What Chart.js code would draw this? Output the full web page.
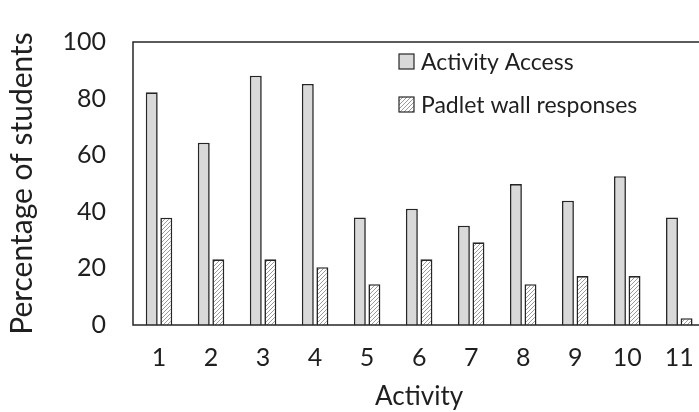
<!DOCTYPE html>
<html>
<head>
<meta charset="utf-8">
<script src="https://cdn.jsdelivr.net/npm/chart.js@4.4.1/dist/chart.umd.min.js"></script>
<style>
  html, body { margin: 0; padding: 0; background: #ffffff; overflow: hidden; }
  #wrap { width: 712px; height: 412px; }
  canvas { display: block; }
</style>
</head>
<body>
<div id="wrap"><canvas id="chart" width="712" height="412"></canvas></div>
<script>
// Activities shown along the x axis
const categories = ['1', '2', '3', '4', '5', '6', '7', '8', '9', '10', '11'];
// Share of students (%) who accessed each activity
const activityAccess = [82.2, 64.4, 88.1, 85.2, 38.0, 41.1, 35.1, 49.8, 43.9, 52.6, 38.0];
// Share of students (%) who posted on the Padlet wall
const padletResponses = [37.9, 23.2, 23.2, 20.4, 14.4, 23.2, 29.2, 14.4, 17.3, 17.3, 2.4];
// Y-axis tick values
const yTicks = [0, 20, 40, 60, 80, 100];

const seriesNames = ['Activity Access', 'Padlet wall responses'];
const INK = '#1f1f1f';
const EDGE = '#262626';

// Upward diagonal hatch used for the Padlet series
function makeHatch() {
  const s = 4;
  const c = document.createElement('canvas');
  c.width = s; c.height = s;
  const g = c.getContext('2d');
  g.fillStyle = '#ffffff';
  g.fillRect(0, 0, s, s);
  g.strokeStyle = '#9a9a9a';
  g.lineWidth = 1;
  g.beginPath();
  g.moveTo(-1, s + 1); g.lineTo(s + 1, -1);
  g.moveTo(-1, 1); g.lineTo(1, -1);
  g.moveTo(s - 1, s + 1); g.lineTo(s + 1, s - 1);
  g.stroke();
  return g.createPattern(c, 'repeat');
}

// Frame around the plot area
const frame = {
  id: 'frame',
  afterDatasetsDraw(chart) {
    const { ctx, chartArea: a } = chart;
    ctx.save();
    ctx.strokeStyle = EDGE;
    ctx.lineWidth = 1.5;
    ctx.strokeRect(a.left, a.top, a.right - a.left, a.bottom - a.top);
    ctx.restore();
  }
};

// Legend drawn inside the plot area
const insideLegend = {
  id: 'insideLegend',
  afterDraw(chart) {
    const { ctx } = chart;
    const x0 = 399, rows = [61.5, 104.5], box = 15;
    ctx.save();
    chart.data.datasets.forEach((ds, i) => {
      const y = rows[i];
      ctx.fillStyle = ds.backgroundColor;
      ctx.fillRect(x0, y - box / 2, box, box);
      ctx.strokeStyle = EDGE;
      ctx.lineWidth = 1.2;
      ctx.strokeRect(x0, y - box / 2, box, box);
      ctx.fillStyle = INK;
      ctx.font = '23px Lato';
      ctx.textAlign = 'left';
      ctx.textBaseline = 'middle';
      ctx.fillText(ds.label, x0 + 22, y + 1);
    });
    ctx.restore();
  }
};

function build() {
  const hatch = makeHatch();
  new Chart(document.getElementById('chart'), {
    type: 'bar',
    data: {
      labels: categories,
      datasets: [
        {
          label: seriesNames[0],
          data: activityAccess,
          backgroundColor: '#d9d9d9',
          borderColor: EDGE,
          borderWidth: 1.6,
          borderSkipped: 'bottom'
        },
        {
          label: seriesNames[1],
          data: padletResponses,
          backgroundColor: hatch,
          borderColor: EDGE,
          borderWidth: 1.6,
          borderSkipped: 'bottom'
        }
      ]
    },
    options: {
      responsive: false,
      animation: false,
      layout: { padding: { top: 26, right: 5, left: 0, bottom: 0 } },
      datasets: { bar: { categoryPercentage: 0.56, barPercentage: 0.82 } },
      plugins: {
        legend: { display: false },
        tooltip: { enabled: false }
      },
      scales: {
        x: {
          grid: { display: false, drawTicks: false },
          border: { display: false },
          ticks: { color: INK, font: { family: 'Lato', size: 25 }, padding: 18 },
          title: {
            display: true,
            text: 'Activity',
            color: INK,
            font: { family: 'Lato', size: 26 },
            padding: { top: 0, bottom: 0 }
          },
          afterFit(scale) { scale.height = 87; }
        },
        y: {
          min: 0,
          max: 100,
          grid: { display: false, drawTicks: false },
          border: { display: false },
          afterBuildTicks(scale) { scale.ticks = yTicks.map(v => ({ value: v })); },
          ticks: { color: INK, font: { family: 'Lato', size: 25 }, padding: 27 },
          title: {
            display: true,
            text: 'Percentage of students',
            color: INK,
            font: { family: 'Lato', size: 30 },
            padding: { top: 4, bottom: 0 }
          },
          afterFit(scale) { scale.width = 133; }
        }
      }
    },
    plugins: [frame, insideLegend]
  });
}

document.fonts.load('25px Lato').then(build, build);
</script>
</body>
</html>
